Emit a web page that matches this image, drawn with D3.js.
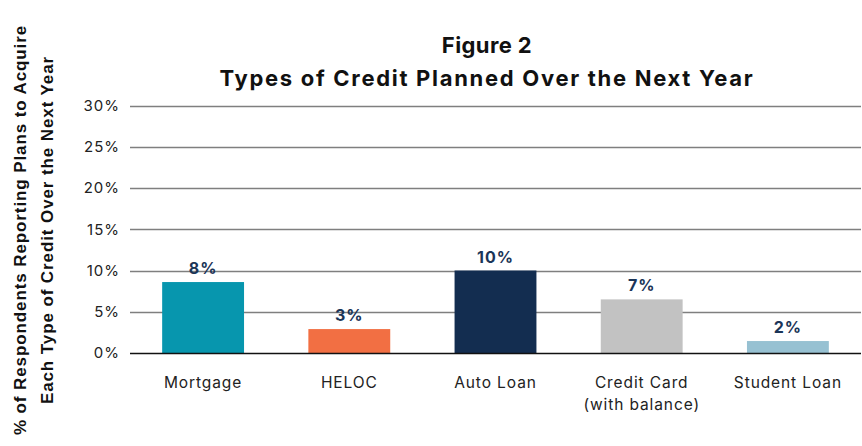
<!DOCTYPE html>
<html>
<head>
<meta charset="utf-8">
<script src="https://cdn.jsdelivr.net/npm/d3@7"></script>
<style>
  html, body { margin: 0; padding: 0; background: #fff; }
  svg { display: block; }
</style>
</head>
<body>
<svg id="chart" width="862" height="446"></svg>
<script>
const categories = ["Mortgage", "HELOC", "Auto Loan", "Credit Card\n(with balance)", "Student Loan"];
const values = [8.6, 2.9, 10.0, 6.5, 1.45];
const valueLabels = ["8%", "3%", "10%", "7%", "2%"];
const barColors = ["#0796ae", "#f26f43", "#132d50", "#c2c2c2", "#97c1d2"];
const yTicks = [0, 5, 10, 15, 20, 25, 30];
const titleLines = ["Figure 2", "Types of Credit Planned Over the Next Year"];
const yTitleLines = ["% of Respondents Reporting Plans to Acquire", "Each Type of Credit Over the Next Year"];

const svg = d3.select("#chart");
const x = d3.scaleBand().domain(categories).range([130, 861]).paddingInner(0.44).paddingOuter(0.22);
const y = d3.scaleLinear().domain([0, 30]).range([353, 105.5]);

// gridlines
svg.append("g").selectAll("line").data(yTicks.filter(d => d > 0)).join("line")
  .attr("x1", 130).attr("x2", 861)
  .attr("y1", d => Math.round(y(d)) + 0.5).attr("y2", d => Math.round(y(d)) + 0.5)
  .attr("stroke", "#7f7f7f").attr("stroke-width", 1.5);

// y tick labels
svg.append("g").selectAll("text").data(yTicks).join("text")
  .attr("x", 120).attr("y", d => y(d)).attr("dy", "0.35em")
  .attr("text-anchor", "end")
  .attr("font-family", "Inter, 'Noto Sans', sans-serif").attr("font-size", 15)
  .attr("letter-spacing", 1)
  .attr("fill", "#222")
  .text(d => d + "%");

// bars
svg.append("g").selectAll("rect").data(categories).join("rect")
  .attr("x", d => x(d)).attr("width", x.bandwidth())
  .attr("y", (d, i) => y(values[i])).attr("height", (d, i) => y(0) - y(values[i]))
  .attr("fill", (d, i) => barColors[i]);

// baseline
svg.append("line").attr("x1", 130).attr("x2", 861)
  .attr("y1", y(0) + 0.5).attr("y2", y(0) + 0.5)
  .attr("stroke", "#111").attr("stroke-width", 1.5);

// value labels
svg.append("g").selectAll("text").data(categories).join("text")
  .attr("x", d => x(d) + x.bandwidth() / 2)
  .attr("y", (d, i) => y(values[i]) - 8)
  .attr("text-anchor", "middle")
  .attr("font-family", "Inter, 'Noto Sans', sans-serif").attr("font-weight", 700).attr("font-size", 16)
  .attr("letter-spacing", 1)
  .attr("fill", "#1b3558")
  .text((d, i) => valueLabels[i]);

// category labels
const cat = svg.append("g").selectAll("text").data(categories).join("text")
  .attr("x", d => x(d) + x.bandwidth() / 2)
  .attr("y", 388)
  .attr("text-anchor", "middle")
  .attr("font-family", "Inter, 'Noto Sans', sans-serif").attr("font-size", 15.5)
  .attr("letter-spacing", 0.9)
  .attr("fill", "#222");
cat.each(function(d) {
  const parts = d.split("\n");
  d3.select(this).selectAll("tspan").data(parts).join("tspan")
    .attr("x", x(d) + x.bandwidth() / 2)
    .attr("dy", (p, j) => j === 0 ? 0 : 22)
    .text(p => p);
});

// title
svg.append("g").selectAll("text").data(titleLines).join("text")
  .attr("x", 487).attr("y", (d, i) => 53 + i * 33)
  .attr("text-anchor", "middle")
  .attr("font-family", "Inter, 'Noto Sans', sans-serif").attr("font-weight", 700).attr("font-size", 22)
  .attr("letter-spacing", (d, i) => i === 0 ? 0.4 : 1.7)
  .attr("fill", "#111")
  .text(d => d);

// y-axis title
svg.append("g").selectAll("text").data(yTitleLines).join("text")
  .attr("transform", (d, i) => `translate(${20 + i * 27},230) rotate(-90)`)
  .attr("dy", "0.35em")
  .attr("text-anchor", "middle")
  .attr("font-family", "'Liberation Sans', Arial, sans-serif").attr("font-weight", 700).attr("font-size", 17)
  .attr("letter-spacing", 0.9)
  .attr("fill", "#111")
  .text(d => d);
</script>
</body>
</html>
